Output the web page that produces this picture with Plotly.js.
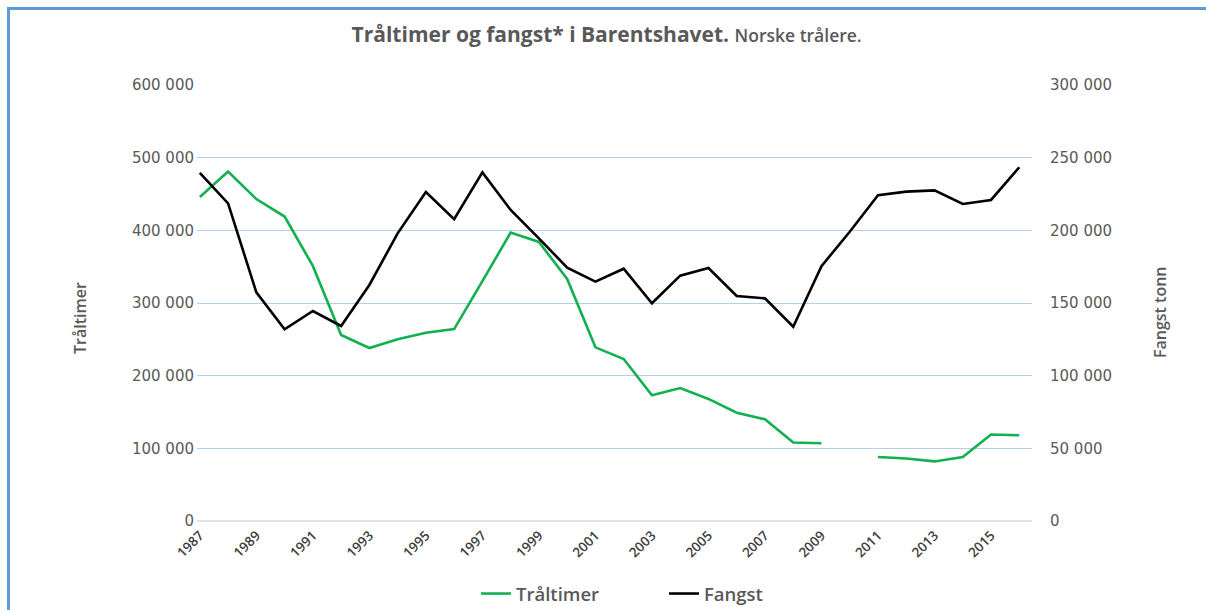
<!DOCTYPE html>
<html>
<head>
<meta charset="utf-8">
<script src="https://cdn.plot.ly/plotly-3.0.1.min.js"></script>
<style>
  html, body { margin: 0; padding: 0; background: #fff; }
  #chart { width: 1206px; height: 610px; position: absolute; left: 0; top: 0; }
  #frame { position: absolute; left: 7px; top: 7px; width: 1199px; height: 603px;
           border-left: 3px solid #5b9bd5; border-top: 3px solid #5b9bd5;
           box-sizing: border-box; pointer-events: none; }
</style>
</head>
<body>
<div id="chart"></div>
<div id="frame"></div>
<script>
const years = [1987,1988,1989,1990,1991,1992,1993,1994,1995,1996,1997,1998,1999,2000,2001,
               2002,2003,2004,2005,2006,2007,2008,2009,2010,2011,2012,2013,2014,2015,2016];
const traltimer = [446000,481000,443000,419000,351000,256000,238000,250000,259000,264000,330000,397000,384000,333000,239000,
                   223000,173000,183000,168000,149000,140000,108000,107000,null,88000,86000,82000,88000,119000,118000];
const fangst = [239600,218600,157300,131900,144500,134200,162400,197900,226400,207600,239900,214000,194500,174300,164700,
                173600,149800,168800,174100,154800,153200,133700,175400,199000,224100,226600,227500,218100,220900,243400];
const tickYears = [1987,1989,1991,1993,1995,1997,1999,2001,2003,2005,2007,2009,2011,2013,2015];
const leftTicks = [0,100000,200000,300000,400000,500000,600000];
const leftLabels = ["0","100 000","200 000","300 000","400 000","500 000","600 000"];
const rightTicks = [0,50000,100000,150000,200000,250000,300000];
const rightLabels = ["0","50 000","100 000","150 000","200 000","250 000","300 000"];

const grey = '#595959';
const traces = [
  { x: years, y: traltimer, name: 'Tråltimer', type: 'scatter', mode: 'lines',
    line: { color: '#12b04f', width: 2.6 }, connectgaps: false, yaxis: 'y', legend: 'legend' },
  { x: years, y: fangst, name: 'Fangst', type: 'scatter', mode: 'lines',
    line: { color: '#000000', width: 2.6 }, yaxis: 'y2', legend: 'legend2' }
];

const legendFont = { family: 'Open Sans, sans-serif', size: 18.5, color: grey, weight: 600 };
const layout = {
  width: 1206, height: 610,
  margin: { l: 197, r: 174, t: 85, b: 89, autoexpand: false },
  paper_bgcolor: '#ffffff', plot_bgcolor: '#ffffff',
  showlegend: true,
  title: {
    text: '<b>Tråltimer og fangst* i Barentshavet.</b> <span style="font-size:17.5px">Norske trålere.</span>',
    font: { family: 'Open Sans, sans-serif', size: 21, color: grey, weight: 600 },
    x: 0.503, xanchor: 'center', y: 0.943, yanchor: 'middle'
  },
  xaxis: {
    range: [1986.9, 2016.45],
    tickmode: 'array', tickvals: tickYears, ticktext: tickYears.map(String),
    tickangle: -45, tickfont: { family: 'Open Sans, sans-serif', size: 13.5, color: '#404040', weight: 600 },
    showgrid: false, zeroline: false, showline: false, ticks: '', ticklen: 0, ticklabelstandoff: 3
  },
  yaxis: {
    range: [0, 600000],
    tickmode: 'array', tickvals: leftTicks, ticktext: leftLabels,
    tickfont: { family: 'DejaVu Sans, sans-serif', size: 15, color: grey },
    showgrid: true, gridcolor: '#b4cfea', gridwidth: 1,
    zeroline: true, zerolinecolor: '#e3e3e3', zerolinewidth: 2,
    showline: false, ticks: '', ticklabelstandoff: 2
  },
  yaxis2: {
    range: [0, 300000], overlaying: 'y', side: 'right',
    tickmode: 'array', tickvals: rightTicks, ticktext: rightLabels,
    tickfont: { family: 'DejaVu Sans, sans-serif', size: 15, color: grey },
    showgrid: false, zeroline: false, showline: false, ticks: '', ticklabelstandoff: 17
  },
  legend: {
    orientation: 'h', xref: 'container', yref: 'container',
    x: 476/1206, xanchor: 'left', y: 16/610, yanchor: 'middle',
    font: legendFont, itemwidth: 30, bgcolor: 'rgba(0,0,0,0)'
  },
  legend2: {
    orientation: 'h', xref: 'container', yref: 'container',
    x: 664/1206, xanchor: 'left', y: 16/610, yanchor: 'middle',
    font: legendFont, itemwidth: 30, bgcolor: 'rgba(0,0,0,0)'
  },
  annotations: [
    { text: 'Tråltimer', xref: 'paper', yref: 'paper', x: (80-197)/835, y: (521-318)/436,
      xanchor: 'center', yanchor: 'middle', textangle: -90, showarrow: false,
      font: { family: 'Open Sans, sans-serif', size: 16, color: grey, weight: 600 } },
    { text: 'Fangst tonn', xref: 'paper', yref: 'paper', x: (1160-197)/835, y: (521-312)/436,
      xanchor: 'center', yanchor: 'middle', textangle: -90, showarrow: false,
      font: { family: 'Open Sans, sans-serif', size: 16, color: grey, weight: 600 } }
  ]
};

Plotly.newPlot('chart', traces, layout, { displayModeBar: false, staticPlot: true });
</script>
</body>
</html>
